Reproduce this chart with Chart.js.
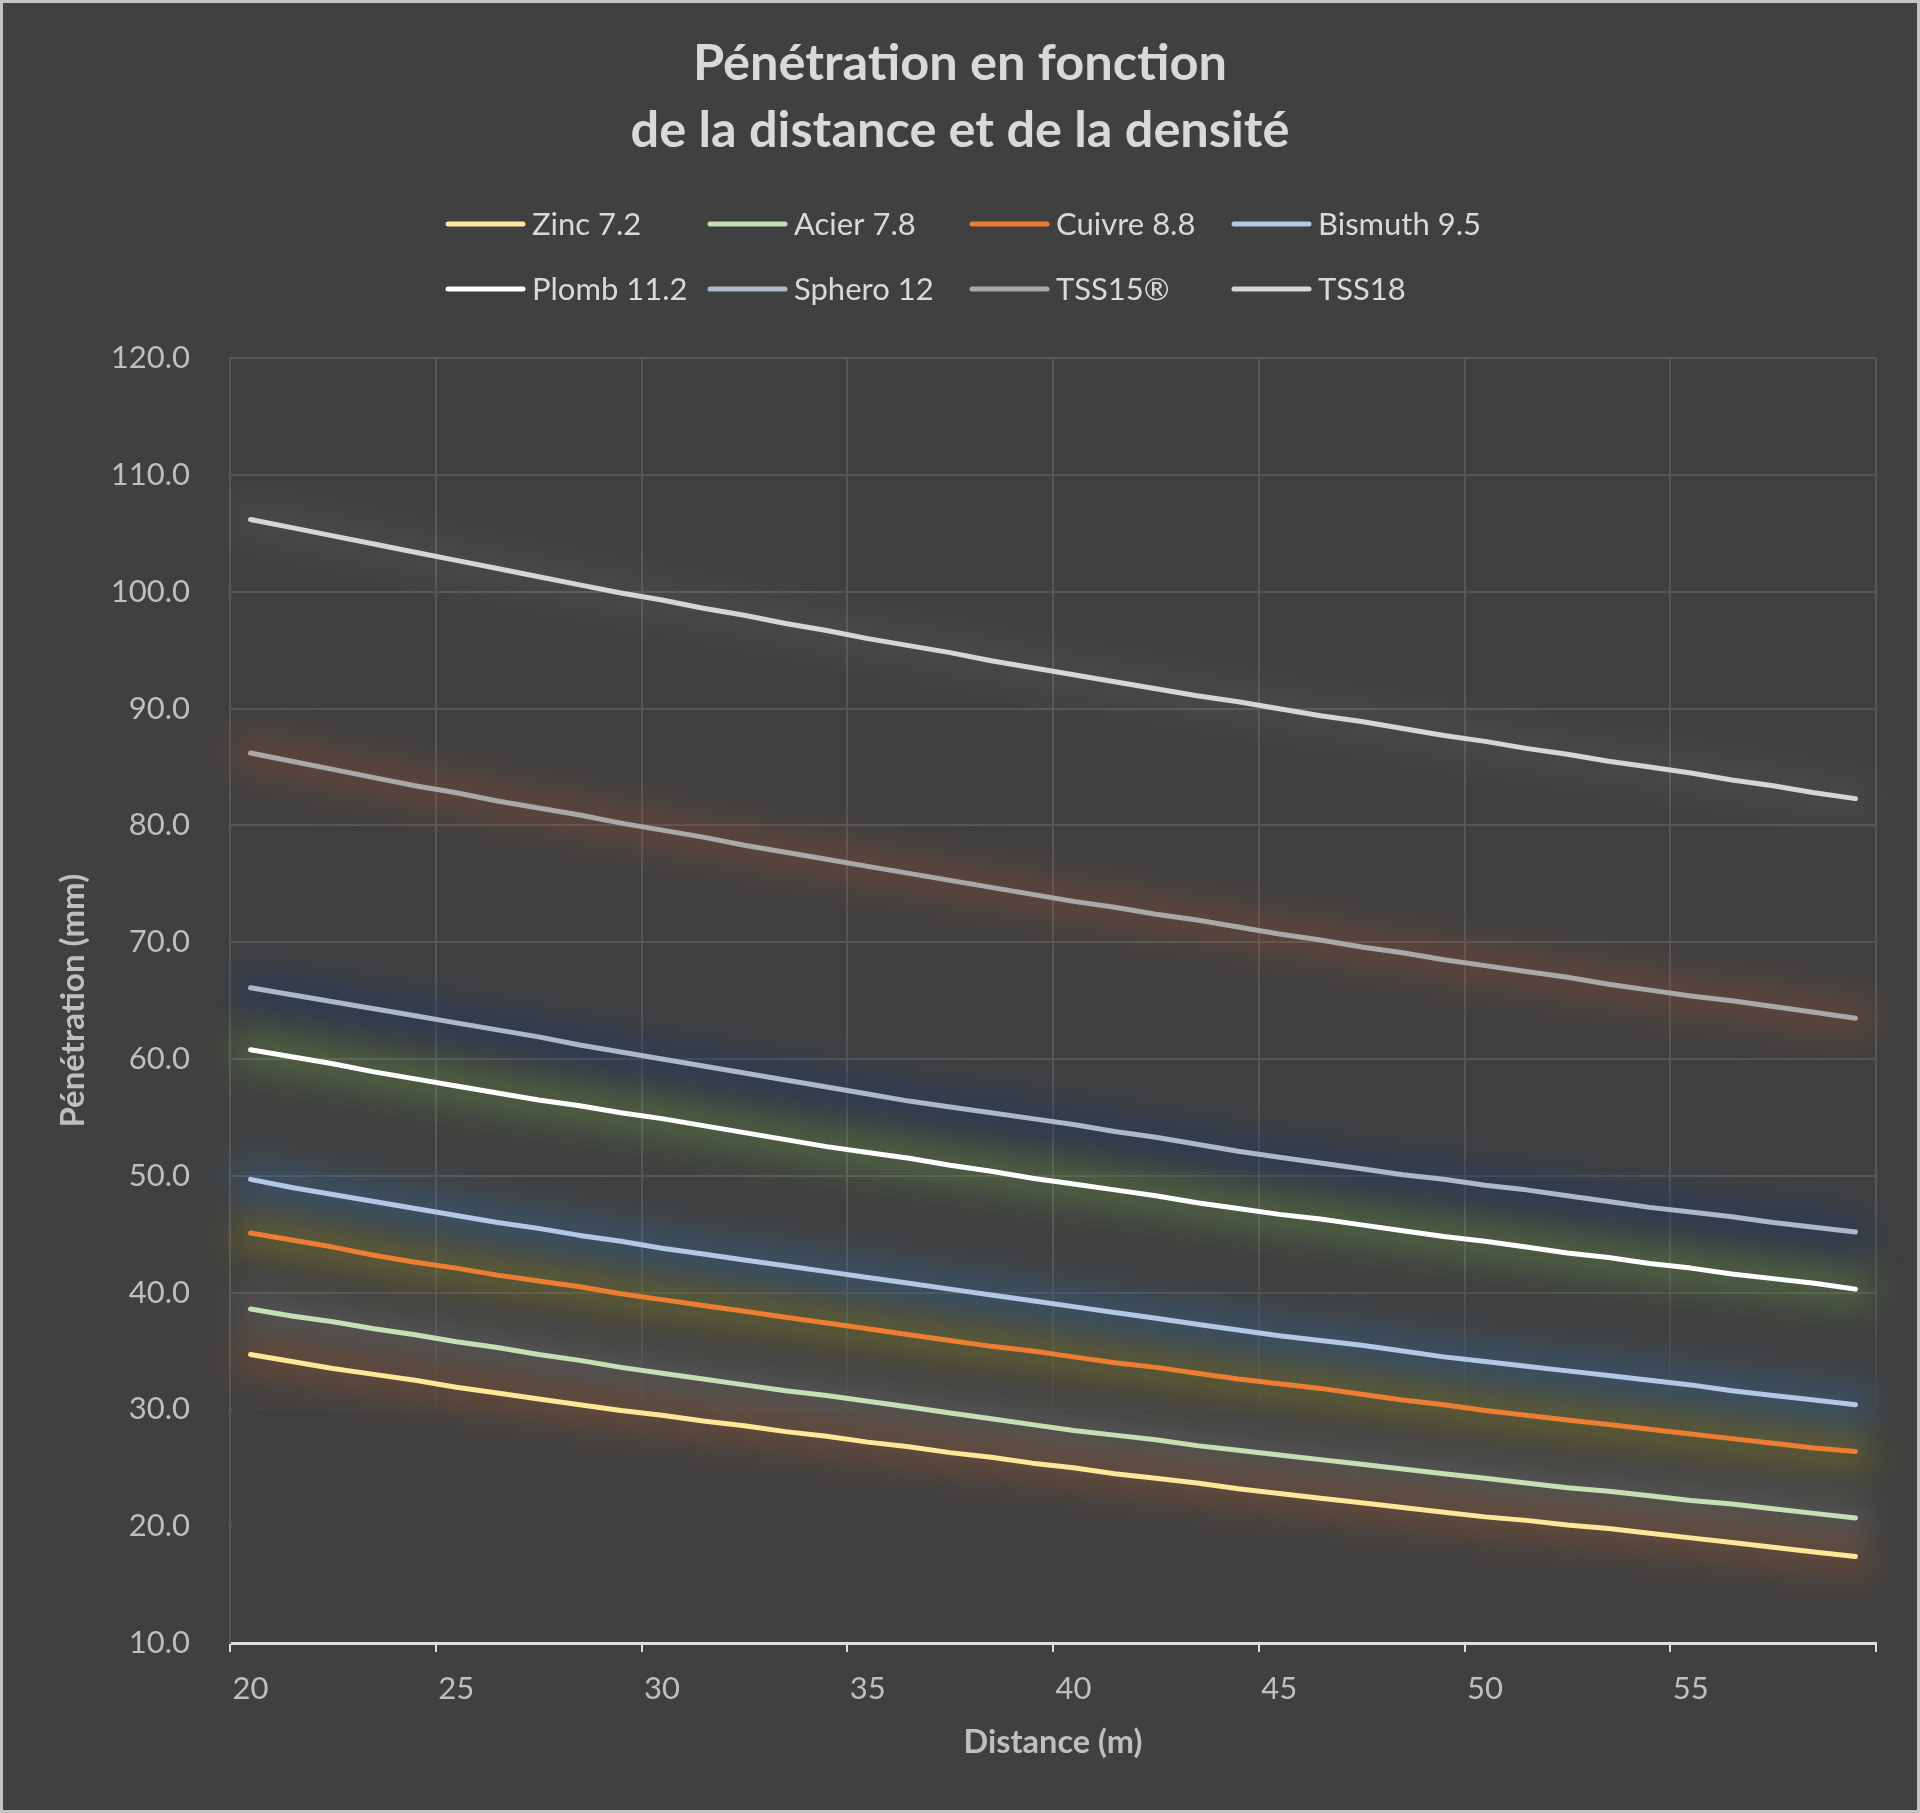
<!DOCTYPE html>
<html lang="fr">

<head>
  <meta charset="UTF-8">
  <title>Pénétration en fonction de la distance et de la densité</title>
  <script src="https://cdn.jsdelivr.net/npm/chart.js"></script>
  <style>
    body { margin: 0; background: #404040; }
    .chart-wrapper { width: 1920px; height: 1813px; }
  </style>
</head>

<body>
  <div class="chart-wrapper"><canvas id="penetrationChart"></canvas></div>

  <script>
    // distances (m)
    const distances = ['20', '21', '22', '23', '24', '25', '26', '27', '28', '29',
      '30', '31', '32', '33', '34', '35', '36', '37', '38', '39',
      '40', '41', '42', '43', '44', '45', '46', '47', '48', '49',
      '50', '51', '52', '53', '54', '55', '56', '57', '58', '59'];

    // pénétration (mm)
    const zinc = [34.7, 34.1, 33.5, 33.0, 32.5, 31.9, 31.4, 30.9, 30.4, 29.9,
      29.5, 29.0, 28.6, 28.1, 27.7, 27.2, 26.8, 26.3, 25.9, 25.4,
      25.0, 24.5, 24.1, 23.7, 23.2, 22.8, 22.4, 22.0, 21.6, 21.2,
      20.8, 20.5, 20.1, 19.8, 19.4, 19.0, 18.6, 18.2, 17.8, 17.4];
    const acier = [38.6, 38.0, 37.5, 36.9, 36.4, 35.8, 35.3, 34.7, 34.2, 33.6,
      33.1, 32.6, 32.1, 31.6, 31.2, 30.7, 30.2, 29.7, 29.2, 28.7,
      28.2, 27.8, 27.4, 26.9, 26.5, 26.1, 25.7, 25.3, 24.9, 24.5,
      24.1, 23.7, 23.3, 23.0, 22.6, 22.2, 21.9, 21.5, 21.1, 20.7];
    const cuivre = [45.1, 44.5, 43.9, 43.2, 42.6, 42.1, 41.5, 41.0, 40.5, 39.9,
      39.4, 38.9, 38.4, 37.9, 37.4, 36.9, 36.4, 35.9, 35.4, 35.0,
      34.5, 34.0, 33.6, 33.1, 32.6, 32.2, 31.8, 31.3, 30.8, 30.4,
      29.9, 29.5, 29.1, 28.7, 28.3, 27.9, 27.5, 27.1, 26.7, 26.4];
    const bismuth = [49.7, 49.0, 48.4, 47.8, 47.2, 46.6, 46.0, 45.5, 44.9, 44.4,
      43.8, 43.3, 42.8, 42.3, 41.8, 41.3, 40.8, 40.3, 39.8, 39.3,
      38.8, 38.3, 37.8, 37.3, 36.8, 36.3, 35.9, 35.5, 35.0, 34.5,
      34.1, 33.7, 33.3, 32.9, 32.5, 32.1, 31.6, 31.2, 30.8, 30.4];
    const plomb = [60.8, 60.2, 59.6, 58.9, 58.3, 57.7, 57.1, 56.5, 56.0, 55.4,
      54.9, 54.3, 53.7, 53.1, 52.5, 52.0, 51.5, 50.9, 50.4, 49.8,
      49.3, 48.8, 48.3, 47.7, 47.2, 46.7, 46.3, 45.8, 45.3, 44.8,
      44.4, 43.9, 43.4, 43.0, 42.5, 42.1, 41.6, 41.2, 40.8, 40.3];
    const sphero = [66.1, 65.5, 64.9, 64.3, 63.7, 63.1, 62.5, 61.9, 61.2, 60.6,
      60.0, 59.4, 58.8, 58.2, 57.6, 57.0, 56.4, 55.9, 55.4, 54.9,
      54.4, 53.8, 53.3, 52.7, 52.1, 51.6, 51.1, 50.6, 50.1, 49.7,
      49.2, 48.8, 48.3, 47.8, 47.3, 46.9, 46.5, 46.0, 45.6, 45.2];
    const tss15 = [86.2, 85.5, 84.8, 84.1, 83.4, 82.8, 82.1, 81.5, 80.9, 80.2,
      79.6, 79.0, 78.3, 77.7, 77.1, 76.5, 75.9, 75.3, 74.7, 74.1,
      73.5, 73.0, 72.4, 71.9, 71.3, 70.7, 70.2, 69.6, 69.1, 68.5,
      68.0, 67.5, 67.0, 66.4, 65.9, 65.4, 65.0, 64.5, 64.0, 63.5];
    const tss18 = [106.2, 105.5, 104.8, 104.1, 103.4, 102.7, 102.0, 101.3, 100.6, 99.9,
      99.3, 98.6, 98.0, 97.3, 96.7, 96.0, 95.4, 94.8, 94.1, 93.5,
      92.9, 92.3, 91.7, 91.1, 90.6, 90.0, 89.4, 88.9, 88.3, 87.7,
      87.2, 86.6, 86.1, 85.5, 85.0, 84.5, 83.9, 83.4, 82.8, 82.3];

    const seriesNames = ['Zinc 7.2', 'Acier 7.8', 'Cuivre 8.8', 'Bismuth 9.5', 'Plomb 11.2', 'Sphero 12', 'TSS15®', 'TSS18'];
    const seriesData = [zinc, acier, cuivre, bismuth, plomb, sphero, tss15, tss18];
    const lineColors = ['#ffe699', '#c5e0b4', '#ed7d31', '#b4c7e7', '#ffffff', '#adb9ca', '#a9a9a9', '#d6d6d6'];
    const glowColors = ['rgba(175,95,45,0.34)', 'rgba(255,255,255,0.11)', 'rgba(165,160,25,0.32)', 'rgba(46,117,182,0.34)',
      'rgba(112,173,71,0.32)', 'rgba(31,56,100,0.52)', 'rgba(160,78,50,0.34)', 'rgba(255,255,255,0.05)'];

    const FONT = 'Lato, "Open Sans", sans-serif';
    const BG = '#404040';
    const GRID = '#575757';

    const chartBackground = {
      id: 'chartBackground',
      beforeDraw(chart) {
        const { ctx, width, height } = chart;
        ctx.save();
        ctx.fillStyle = BG;
        ctx.fillRect(0, 0, width, height);
        ctx.strokeStyle = '#c4c4c4';
        ctx.lineWidth = 3;
        ctx.strokeRect(1.5, 1.5, width - 3, height - 3);
        ctx.restore();
      }
    };

    // grille estompée dans le bas + halo autour de chaque courbe
    const glowLines = {
      id: 'glowLines',
      beforeDatasetsDraw(chart) {
        const { ctx, chartArea: a, scales } = chart;
        const y0 = scales.y.getPixelForValue(44);
        const y1 = scales.y.getPixelForValue(28);
        const grad = ctx.createLinearGradient(0, y0, 0, y1);
        grad.addColorStop(0, 'rgba(64,64,64,0)');
        grad.addColorStop(1, 'rgba(64,64,64,1)');
        ctx.save();
        ctx.fillStyle = grad;
        ctx.fillRect(a.left + 2, y0, a.right - a.left, a.bottom - y0 - 2);
        ctx.restore();

        chart.data.datasets.forEach((ds, i) => {
          const pts = chart.getDatasetMeta(i).data;
          ctx.save();
          ctx.filter = 'blur(17px)';
          ctx.strokeStyle = glowColors[i];
          ctx.lineWidth = 38;
          ctx.lineCap = 'round';
          ctx.lineJoin = 'round';
          ctx.beginPath();
          pts.forEach((p, k) => k ? ctx.lineTo(p.x, p.y) : ctx.moveTo(p.x, p.y));
          ctx.stroke();
          ctx.restore();
        });
      }
    };

    // légende en grille 4 x 2 comme dans Excel
    const gridLegend = {
      id: 'gridLegend',
      afterDraw(chart) {
        const { ctx } = chart;
        ctx.save();
        ctx.font = '31px ' + FONT;
        ctx.textBaseline = 'middle';
        ctx.fillStyle = '#d9d9d9';
        chart.data.datasets.forEach((ds, i) => {
          const x = 446 + (i % 4) * 262;
          const y = 224 + Math.floor(i / 4) * 65;
          ctx.strokeStyle = ds.borderColor;
          ctx.lineWidth = 5;
          ctx.lineCap = 'round';
          ctx.beginPath();
          ctx.moveTo(x + 2, y);
          ctx.lineTo(x + 77, y);
          ctx.stroke();
          ctx.fillText(ds.label, x + 86, y + 1);
        });
        ctx.restore();
      }
    };

    const everyFifth = (c, on) => (c.index === undefined || c.index % 5 === 0) ? on : 'transparent';

    new Chart(document.getElementById('penetrationChart'), {
      type: 'line',
      data: {
        labels: distances,
        datasets: seriesData.map((d, i) => ({
          label: seriesNames[i],
          data: d,
          borderColor: lineColors[i],
          backgroundColor: lineColors[i],
          borderWidth: 5,
          borderCapStyle: 'round',
          borderJoinStyle: 'round',
          pointRadius: 0,
          tension: 0
        }))
      },
      options: {
        responsive: true,
        maintainAspectRatio: false,
        animation: false,
        layout: { padding: 0 },
        plugins: {
          legend: { display: false },
          tooltip: { enabled: false },
          title: {
            display: true,
            text: ['Pénétration en fonction', 'de la distance et de la densité'],
            color: '#d9d9d9',
            font: { family: FONT, size: 50.5, weight: 'bold', lineHeight: 1.31 },
            padding: { top: 31, bottom: 195 }
          }
        },
        scales: {
          x: {
            offset: true,
            afterFit: (s) => { s.height = 170; },
            grid: {
              offset: true,
              color: (c) => everyFifth(c, GRID),
              lineWidth: 2,
              tickColor: (c) => everyFifth(c, '#e0e0e0'),
              tickWidth: 2,
              tickLength: 9
            },
            border: { color: '#e0e0e0', width: 3 },
            ticks: {
              autoSkip: false,
              maxRotation: 0,
              padding: 18,
              color: '#bfbfbf',
              font: { family: FONT, size: 31 },
              callback: function (v, i) { return i % 5 === 0 ? this.getLabelForValue(v) : ''; }
            },
            title: {
              display: true,
              text: 'Distance (m)',
              color: '#bfbfbf',
              font: { family: FONT, size: 32.5, weight: 'bold' },
              padding: { top: 0, bottom: 51 }
            }
          },
          y: {
            min: 10,
            max: 120,
            afterFit: (s) => { s.width = 230; },
            grid: {
              color: (c) => c.tick && c.tick.value === 10 ? 'transparent' : GRID,
              lineWidth: 2,
              drawTicks: false
            },
            border: { color: GRID, width: 2 },
            ticks: {
              stepSize: 10,
              padding: 40,
              color: '#bfbfbf',
              font: { family: FONT, size: 31 },
              callback: (v) => v.toFixed(1)
            },
            title: {
              display: true,
              text: 'Pénétration (mm)',
              color: '#bfbfbf',
              font: { family: FONT, size: 33, weight: 'bold' },
              padding: { top: 54, bottom: 0 }
            }
          },
          // marge à droite du tracé, sans décaler le titre
          yMargin: {
            position: 'right',
            display: true,
            afterFit: (s) => { s.width = 44; },
            grid: { display: false },
            border: { display: false },
            ticks: { display: false }
          }
        }
      },
      plugins: [chartBackground, glowLines, gridLegend]
    });
  </script>
</body>

</html>
